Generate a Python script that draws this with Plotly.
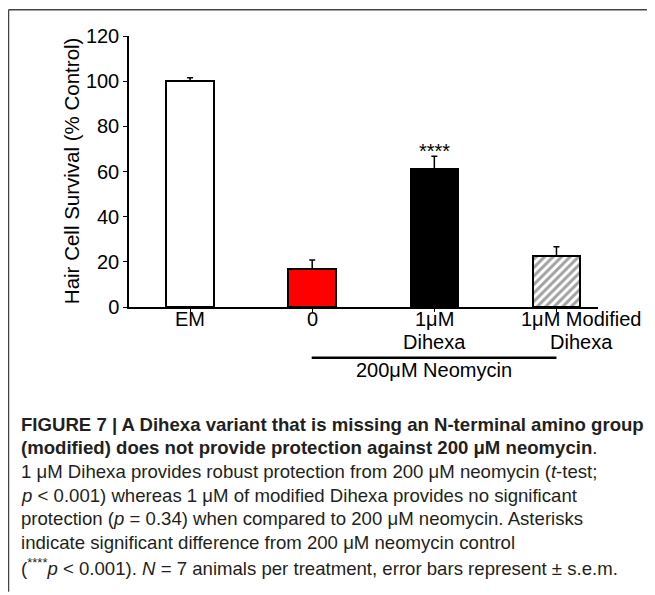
import plotly.graph_objects as go

# ---- data ----
categories = ["EM", "0", "1μM", "1μM Modified"]
categories_line2 = ["", "", "Dihexa", "Dihexa"]
survival = [100.0, 16.7, 61.1, 22.7]
sem = [1.5, 4.1, 5.7, 4.0]
bar_colors = ["white", "#ff0000", "black", "white"]
bar_patterns = ["", "", "", "/"]
y_ticks = [0, 20, 40, 60, 80, 100, 120]
signif_label = "****"
signif_index = 2
neomycin_label = "200μM Neomycin"

# page has an 8px body margin; work in screen pixels and convert
OFF = 8
W, H = 655 - OFF, 595 - OFF
L, R, T, B = 129, 598, 35.7, 307.0   # screen coords of plot area

def px(xs_):
    return (xs_ - L) / (R - L)

def py(ys_):
    return (B - ys_) / (B - T)

xs = list(range(len(categories)))

fig = go.Figure()
fig.add_trace(go.Bar(
    x=xs, y=survival, width=0.39,
    marker=dict(color=bar_colors, line=dict(color="black", width=2),
                pattern=dict(shape=bar_patterns, fgcolor="black", bgcolor="white",
                             size=6, solidity=0.5)),
    error_y=dict(type="data", array=sem, arrayminus=[0]*len(sem), symmetric=False,
                 color="black", thickness=1.5, width=3),
    showlegend=False, hoverinfo="skip",
))

font_main = "Liberation Sans, Arial, sans-serif"

fig.update_layout(
    width=W, height=H,
    margin=dict(l=L - OFF, r=W - (R - OFF), t=T - OFF, b=H - (B - OFF), pad=0),
    paper_bgcolor="white", plot_bgcolor="white",
    font=dict(family=font_main, size=20, color="black"),
    bargap=0,
    xaxis=dict(range=[-0.5, 3.34], tickmode="array", tickvals=xs,
               showticklabels=False,
               showline=True, linecolor="black", linewidth=1.5, ticks="outside",
               ticklen=3, tickwidth=1, tickcolor="black", showgrid=False, zeroline=False),
    yaxis=dict(range=[0, 120], tickmode="array", tickvals=y_ticks,
               showline=True, linecolor="black", linewidth=1.5, ticks="outside",
               ticklen=4, tickwidth=1, tickcolor="black", showgrid=False, zeroline=False,
               tickfont=dict(size=20)),
)

# category labels (two lines, last one shifted right as in reference)
shifts = [0, 0, 0, 25]
for i, (l1, l2) in enumerate(zip(categories, categories_line2)):
    fig.add_annotation(text=l1, x=i, xref="x", yref="paper", y=py(319),
                       xshift=shifts[i], showarrow=False, yanchor="middle",
                       borderpad=0, font=dict(size=20))
    if l2:
        fig.add_annotation(text=l2, x=i, xref="x", yref="paper", y=py(342),
                           xshift=shifts[i], showarrow=False, yanchor="middle",
                           borderpad=0, font=dict(size=20))

# y axis title
fig.add_annotation(text="Hair Cell Survival (% Control)", xref="paper", yref="paper",
                   x=px(71), y=py(171), textangle=-90, showarrow=False,
                   font=dict(size=20.5), xanchor="center", yanchor="middle")

# significance asterisks
fig.add_annotation(text=signif_label, x=signif_index, xref="x", yref="paper", y=py(151),
                   showarrow=False, font=dict(size=20), yanchor="middle")

# neomycin bracket line and label
fig.add_shape(type="line", xref="x", yref="paper", x0=0.996, x1=3.0,
              y0=py(357.7), y1=py(357.7), line=dict(color="black", width=2.5))
fig.add_annotation(text=neomycin_label, xref="x", yref="paper", x=2.0, y=py(370),
                   showarrow=False, font=dict(size=20), yanchor="middle")

# frame lines
fig.add_shape(type="line", xref="paper", yref="paper", x0=px(8.5), x1=px(660),
              y0=py(9.5), y1=py(9.5), line=dict(color="#444", width=1.5))
fig.add_shape(type="line", xref="paper", yref="paper", x0=px(8.5), x1=px(8.5),
              y0=py(9.5), y1=py(592), line=dict(color="#444", width=1.5))

# caption
cap_font = "Liberation Sans, Arial, sans-serif"
caption = [
    (425, "<b>FIGURE 7 | A Dihexa variant that is missing an N-terminal amino group</b>"),
    (448, "<b>(modified) does not provide protection against 200 μM neomycin</b>."),
    (472, "1 μM Dihexa provides robust protection from 200 μM neomycin (<i>t</i>-test;"),
    (496, "<i>p</i> &lt; 0.001) whereas 1 μM of modified Dihexa provides no significant"),
    (519, "protection (<i>p</i> = 0.34) when compared to 200 μM neomycin. Asterisks"),
    (543, "indicate significant difference from 200 μM neomycin control"),
    (567, "(<sup>****</sup><i>p</i> &lt; 0.001). <i>N</i> = 7 animals per treatment, error bars represent ± s.e.m."),
]
for yp, txt in caption:
    fig.add_annotation(text=txt, xref="paper", yref="paper", x=px(20), y=py(yp),
                       xanchor="left", yanchor="middle", showarrow=False, align="left",
                       borderpad=0, font=dict(family=cap_font, size=18.6, color="#231f20"))

fig.write_html("out.html")
